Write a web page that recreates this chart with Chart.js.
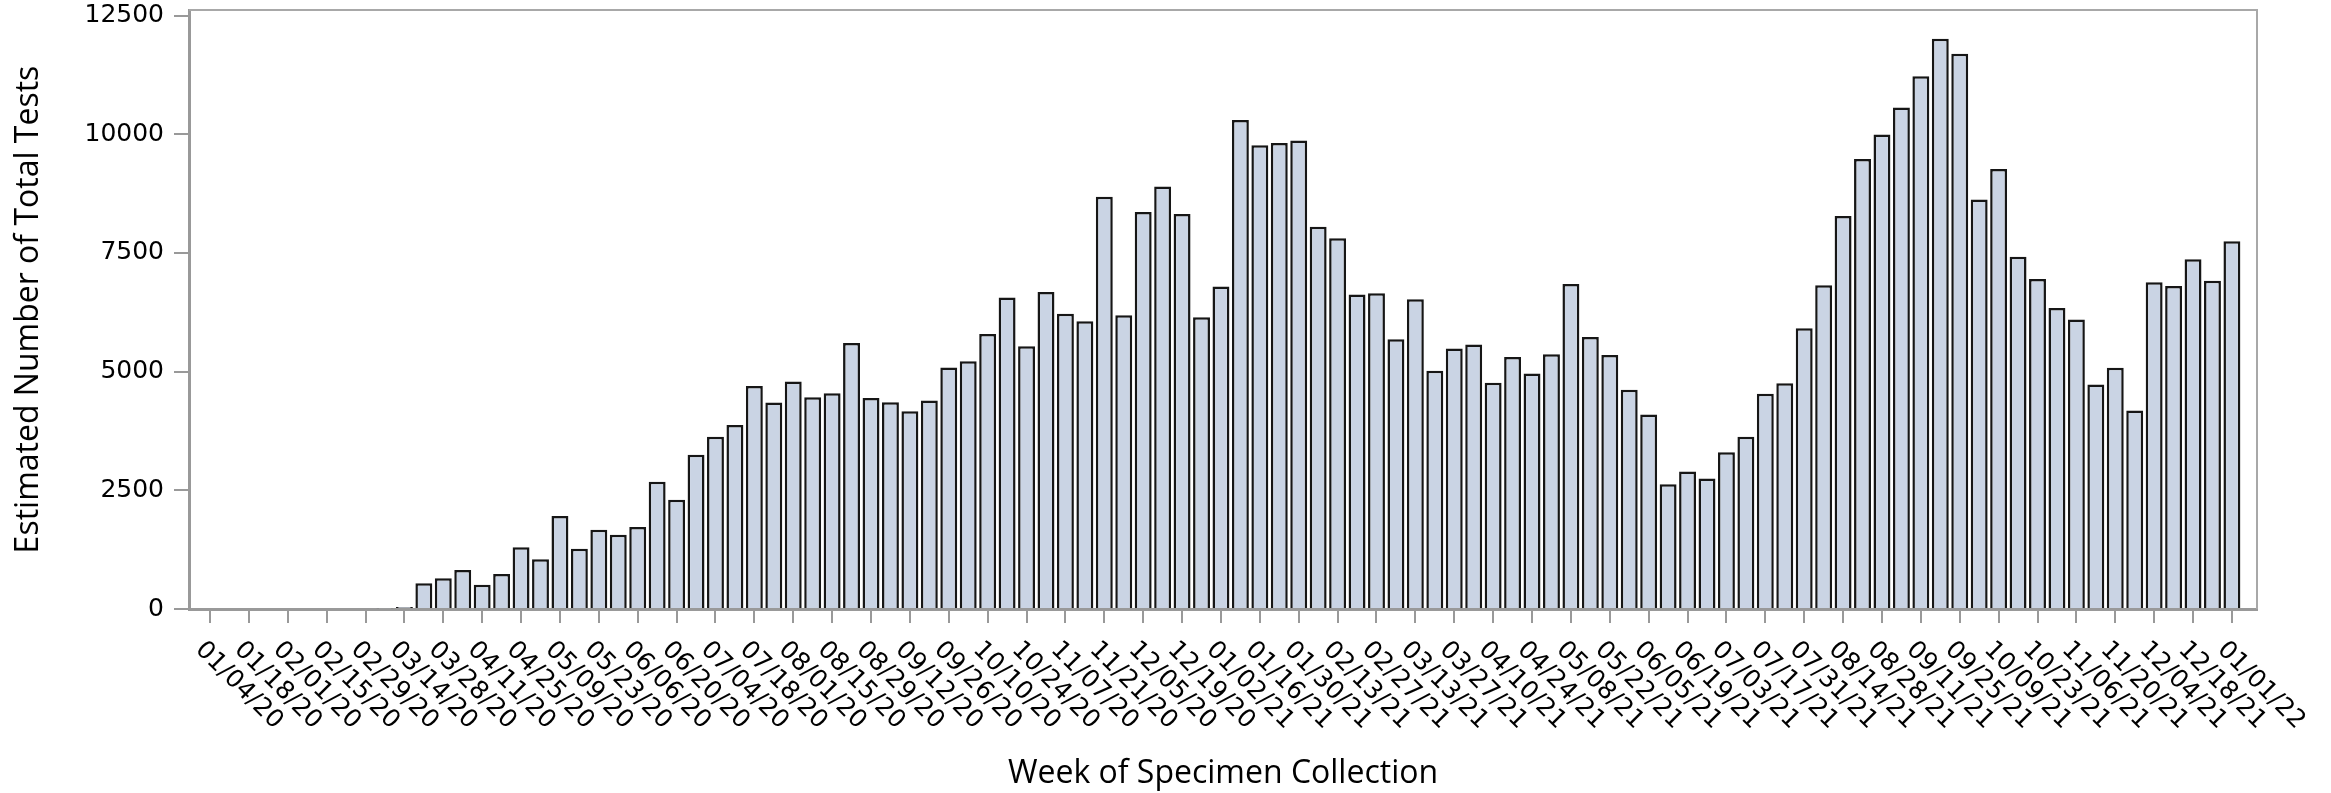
<!DOCTYPE html>
<html>
<head>
<meta charset="utf-8">
<script src="https://cdn.jsdelivr.net/npm/chart.js@4/dist/chart.umd.min.js"></script>
<style>
  html, body { margin: 0; padding: 0; background: #ffffff; }
  #wrap { width: 2331px; height: 793px; }
</style>
</head>
<body>
<div id="wrap"><canvas id="c" width="2331" height="793"></canvas></div>
<script>
// Week of specimen collection (category labels)
const weeks = [
  "01/04/20","01/11/20","01/18/20","01/25/20","02/01/20","02/08/20","02/15/20","02/22/20","02/29/20",
  "03/07/20","03/14/20","03/21/20","03/28/20","04/04/20","04/11/20","04/18/20","04/25/20",
  "05/02/20","05/09/20","05/16/20","05/23/20","05/30/20","06/06/20","06/13/20","06/20/20","06/27/20",
  "07/04/20","07/11/20","07/18/20","07/25/20","08/01/20","08/08/20","08/15/20","08/22/20","08/29/20",
  "09/05/20","09/12/20","09/19/20","09/26/20","10/03/20","10/10/20","10/17/20","10/24/20","10/31/20",
  "11/07/20","11/14/20","11/21/20","11/28/20","12/05/20","12/12/20","12/19/20","12/26/20",
  "01/02/21","01/09/21","01/16/21","01/23/21","01/30/21","02/06/21","02/13/21","02/20/21","02/27/21",
  "03/06/21","03/13/21","03/20/21","03/27/21","04/03/21","04/10/21","04/17/21","04/24/21",
  "05/01/21","05/08/21","05/15/21","05/22/21","05/29/21","06/05/21","06/12/21","06/19/21","06/26/21",
  "07/03/21","07/10/21","07/17/21","07/24/21","07/31/21","08/07/21","08/14/21","08/21/21","08/28/21",
  "09/04/21","09/11/21","09/18/21","09/25/21","10/02/21","10/09/21","10/16/21","10/23/21","10/30/21",
  "11/06/21","11/13/21","11/20/21","11/27/21","12/04/21","12/11/21","12/18/21","12/25/21",
  "01/01/22"
];

// Estimated number of total tests per week
const tests = [
  0, 0, 0, 0, 0, 0, 0, 0, 0,
  15, 40, 540, 650, 820, 510, 735, 1300,
  1050, 1960, 1270, 1670, 1565, 1725, 2680, 2300, 3250,
  3630, 3875, 4695, 4350, 4790, 4460, 4545, 5600, 4445,
  4355, 4165, 4390, 5085, 5220, 5790, 6560, 5535, 6675,
  6220, 6060, 8685, 6185, 8360, 8900, 8320, 6145,
  6795, 10300, 9765, 9815, 9870, 8050, 7810, 6625, 6650,
  5680, 6525, 5020, 5485, 5570, 4765, 5305, 4960,
  5365, 6845, 5730, 5350, 4620, 4095, 2625, 2895, 2750,
  3300, 3630, 4535, 4755, 5915, 6820, 8275, 9480, 9995,
  10560, 11220, 12010, 11695, 8625, 9265, 7420, 6950, 6340,
  6100, 4730, 5080, 4180, 6880, 6805, 7365, 6915,
  7745
];

// Y-axis tick values
const yTicks = [0, 2500, 5000, 7500, 10000, 12500];

const yTitle = "Estimated Number of Total Tests";
const xTitle = "Week of Specimen Collection";

const AXIS_GRAY = '#999999';
const FRAME_GRAY = '#a8a8a8';

const framePlugin = {
  id: 'frame',
  afterDraw(chart) {
    const {ctx, chartArea: a} = chart;
    ctx.save();
    ctx.strokeStyle = FRAME_GRAY;
    ctx.lineWidth = 2;
    ctx.beginPath();
    ctx.moveTo(a.left, a.top);
    ctx.lineTo(a.right, a.top);
    ctx.lineTo(a.right, a.bottom);
    ctx.stroke();
    ctx.restore();
  }
};

const xLabelPlugin = {
  id: 'xlabels',
  afterDraw(chart) {
    const {ctx} = chart;
    const xs = chart.scales.x;
    const y0 = chart.chartArea.bottom + 28;
    ctx.save();
    ctx.fillStyle = '#000000';
    ctx.font = '25px "DejaVu Sans"';
    ctx.textAlign = 'left';
    ctx.textBaseline = 'top';
    xs.ticks.forEach(t => {
      const label = weeks[t.value];
      if (label === undefined) return;
      const px = xs.getPixelForValue(t.value);
      ctx.save();
      ctx.translate(px - 2, y0);
      ctx.rotate(Math.PI / 4);
      ctx.fillText(label, 0, 0);
      ctx.restore();
    });
    ctx.restore();
  }
};

new Chart(document.getElementById('c'), {
  type: 'bar',
  data: {
    datasets: [{
      data: tests.map((v, i) => ({x: i, y: v})),
      backgroundColor: '#cad4e4',
      borderColor: '#161616',
      borderWidth: 2.5,
      barPercentage: 0.87,
      categoryPercentage: 1.0
    }]
  },
  options: {
    responsive: false,
    animation: false,
    devicePixelRatio: 1,
    layout: { padding: { top: 10, right: 74, bottom: 0, left: 0 } },
    plugins: {
      legend: { display: false },
      tooltip: { enabled: false }
    },
    scales: {
      x: {
        type: 'linear',
        min: -1.08,
        max: 105.29,
        offset: false,
        grid: {
          display: true,
          offset: false,
          drawOnChartArea: false,
          drawTicks: true,
          tickLength: 14,
          color: AXIS_GRAY,
          lineWidth: 2
        },
        border: { display: true, color: AXIS_GRAY, width: 3 },
        ticks: {
          display: false,
          stepSize: 2,
          includeBounds: false,
          autoSkip: false
        },
        title: {
          display: true,
          text: xTitle,
          color: '#000000',
          font: { family: '"Open Sans"', size: 32 },
          padding: { top: 0, bottom: 0 }
        },
        afterFit(scale) { scale.height = 184; }
      },
      y: {
        min: 0,
        max: 12616,
        grid: {
          display: true,
          drawOnChartArea: false,
          drawTicks: true,
          tickLength: 15,
          color: AXIS_GRAY,
          lineWidth: 2
        },
        border: { display: true, color: AXIS_GRAY, width: 3 },
        afterBuildTicks(scale) { scale.ticks = yTicks.map(v => ({value: v})); },
        ticks: {
          padding: 10,
          color: '#000000',
          font: { family: '"DejaVu Sans"', size: 25 },
          callback: (v) => String(v)
        },
        title: {
          display: true,
          text: yTitle,
          color: '#000000',
          font: { family: '"Open Sans"', size: 32 },
          padding: { top: 10, bottom: 0 }
        },
        afterFit(scale) {
          scale.width = 189;
          scale.paddingTop = 0;
          scale.paddingBottom = 0;
        }
      }
    }
  },
  plugins: [framePlugin, xLabelPlugin]
});
</script>
</body>
</html>
